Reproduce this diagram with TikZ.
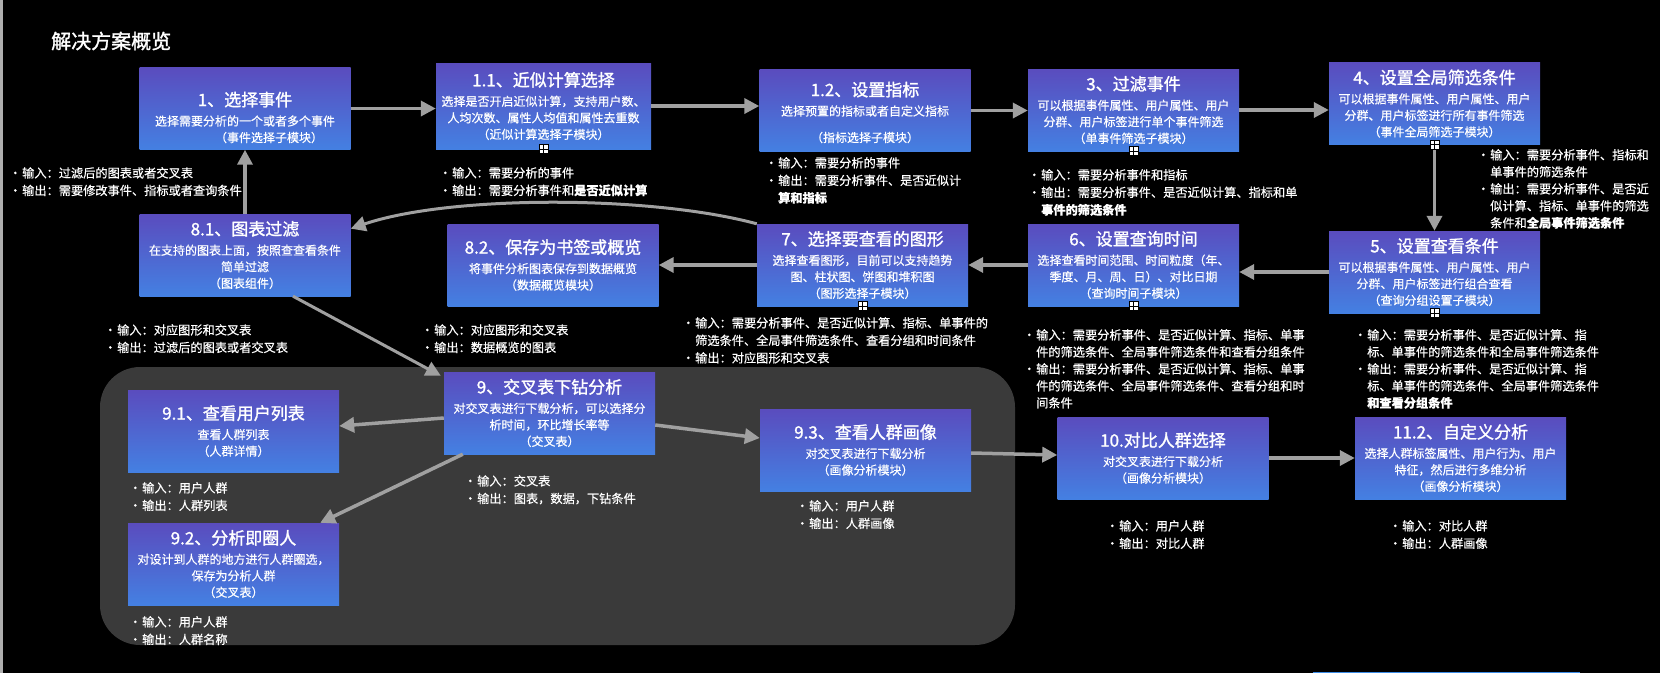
\documentclass[tikz,border=0pt]{standalone}
\usepackage{fontspec}
\setmainfont{Noto Sans CJK SC}[FakeBold=0.5]
\newfontfamily\titlefont{Noto Sans CJK SC}[FakeBold=1.4]
\usetikzlibrary{arrows.meta,calc}
\definecolor{boxtop}{RGB}{90,76,190}
\definecolor{boxbot}{RGB}{68,128,226}
\definecolor{arrgrey}{RGB}{160,160,160}
\definecolor{panel}{RGB}{58,58,58}
\definecolor{leftgrey}{RGB}{175,175,175}
\definecolor{bluel}{RGB}{60,140,230}
\newcommand\ttl[1]{{\titlefont\fontsize{17}{20}\selectfont #1}}
\newcommand\nb{\makebox[13pt][l]{·}}
\newcommand\nc{\hspace*{13pt}}
\tikzset{
  box/.style={rectangle, minimum width=211pt, minimum height=82pt, inner sep=0pt,
    top color=boxtop, bottom color=boxbot, draw=none},
  boxtext/.style={align=center, text=white, inner sep=0pt, font=\fontsize{12}{16.5}\selectfont},
  note/.style={align=left, text=white, anchor=north west, inner sep=0pt, font=\fontsize{12.2}{17.5}\selectfont},
  arr/.style={draw=arrgrey, line width=3.5pt, -{Triangle[length=15pt,width=15pt]}},
  plusicon/.style={rectangle, draw=black, fill=white, line width=0.8pt, minimum size=9pt, inner sep=0pt,
    path picture={\draw[black, line width=0.8pt] (path picture bounding box.north) -- (path picture bounding box.south)
      (path picture bounding box.west) -- (path picture bounding box.east);}}
}
\begin{document}
\begin{tikzpicture}[x=1pt,y=-1pt]
\useasboundingbox (0,0) rectangle (1660,673);
\fill[black] (0,0) rectangle (1660,673);
\fill[leftgrey] (0,0) rectangle (2.5,673);
\fill[panel, rounded corners=40pt] (100,367) rectangle (1015,645);
\fill[bluel] (1313,671.5) rectangle (1580,673);

\node[anchor=west, text=white, inner sep=0pt, font=\titlefont\fontsize{20}{20}\selectfont] (title) at (51,41) {解决方案概览};

% boxes
\node[box] (b1) at (245,108.5) {};
\node[boxtext, yshift=-9pt] (t1) at (b1.center) {\ttl{1、选择事件}\\[3pt]选择需要分析的一个或者多个事件\\\hspace*{48pt}（事件选择子模块）};
\node[box, minimum width=215pt, minimum height=86pt] (b11) at (543.5,106) {};
\node[boxtext] (t11) at (b11.center) {\ttl{1.1、近似计算选择}\\[3pt]选择是否开启近似计算，支持用户数、\\人均次数、属性人均值和属性去重数\\（近似计算选择子模块）};
\node[box] (b12) at (865,110.5) {};
\node[boxtext, yshift=-2pt] (t12) at (b12.center) {\ttl{1.2、设置指标}\\[3pt]选择预置的指标或者自定义指标\\[10pt]（指标选择子模块）};
\node[box] (b3) at (1133.5,110) {};
\node[boxtext] (t3) at (b3.center) {\ttl{3、过滤事件}\\[3pt]可以根据事件属性、用户属性、用户\\分群、用户标签进行单个事件筛选\\（单事件筛选子模块）};
\node[box] (b4) at (1434.5,103.5) {};
\node[boxtext] (t4) at (b4.center) {\ttl{4、设置全局筛选条件}\\[3pt]可以根据事件属性、用户属性、用户\\分群、用户标签进行所有事件筛选\\（事件全局筛选子模块）};
\node[box] (b5) at (1434.5,272) {};
\node[boxtext] (t5) at (b5.center) {\ttl{5、设置查看条件}\\[3pt]可以根据事件属性、用户属性、用户\\分群、用户标签进行组合查看\\（查询分组设置子模块）};
\node[box] (b6) at (1133.5,265) {};
\node[boxtext] (t6) at (b6.center) {\ttl{6、设置查询时间}\\[3pt]选择查看时间范围、时间粒度（年、\\季度、月、周、日）、对比日期\\（查询时间子模块）};
\node[box] (b7) at (862.5,265) {};
\node[boxtext] (t7) at (b7.center) {\ttl{7、选择要查看的图形}\\[3pt]选择查看图形，目前可以支持趋势\\图、柱状图、饼图和堆积图\\（图形选择子模块）};
\node[box] (b82) at (553,265) {};
\node[boxtext] (t82) at (b82.center) {\ttl{8.2、保存为书签或概览}\\[3pt]将事件分析图表保存到数据概览\\（数据概览模块）};
\node[box] (b81) at (245,255) {};
\node[boxtext] (t81) at (b81.center) {\ttl{8.1、图表过滤}\\[3pt]在支持的图表上面，按照查查看条件\\简单过滤\\（图表组件）};
\node[box] (b9) at (549.5,413) {};
\node[boxtext] (t9) at (b9.center) {\ttl{9、交叉表下钻分析}\\[3pt]对交叉表进行下载分析，可以选择分\\析时间，环比增长率等\\（交叉表）};
\node[box] (b91) at (233.5,431) {};
\node[boxtext] (t91) at (b91.center) {\ttl{9.1、查看用户列表}\\[3pt]查看人群列表\\（人群详情）};
\node[box] (b92) at (233.5,564) {};
\node[boxtext] (t92) at (b92.center) {\ttl{9.2、分析即圈人}\\[3pt]对设计到人群的地方进行人群圈选，\\保存为分析人群\\（交叉表）};
\node[box] (b93) at (865.5,450) {};
\node[boxtext] (t93) at (b93.center) {\ttl{9.3、查看人群画像}\\[3pt]对交叉表进行下载分析\\（画像分析模块）};
\node[box] (b10) at (1163,458) {};
\node[boxtext] (t10) at (b10.center) {\ttl{10.对比人群选择}\\[3pt]对交叉表进行下载分析\\（画像分析模块）};
\node[box] (b112) at (1460.5,458) {};
\node[boxtext] (t112) at (b112.center) {\ttl{11.2、自定义分析}\\[3pt]选择人群标签属性、用户行为、用户\\特征，然后进行多维分析\\（画像分析模块）};

% notes
\node[note] (n1) at (9,167) {\nb 输入：过滤后的图表或者交叉表\\\nb 输出：需要修改事件、指标或者查询条件};
\node[note] (n11) at (439,167) {\nb 输入：需要分析的事件\\\nb 输出：需要分析事件和{\bfseries 是否近似计算}};
\node[note] (n12) at (765,157) {\nb 输入：需要分析的事件\\\nb 输出：需要分析事件、是否近似计\\\nc{\bfseries 算和指标}};
\node[note] (n3) at (1028,169) {\nb 输入：需要分析事件和指标\\\nb 输出：需要分析事件、是否近似计算、指标和单\\\nc{\bfseries 事件的筛选条件}};
\node[note, font=\fontsize{12.2}{17}\selectfont] (n4) at (1477,149) {\nb 输入：需要分析事件、指标和\\\nc 单事件的筛选条件\\\nb 输出：需要分析事件、是否近\\\nc 似计算、指标、单事件的筛选\\\nc 条件和{\bfseries 全局事件筛选条件}};
\node[note, font=\fontsize{12.2}{17}\selectfont] (n5) at (1354,329) {\nb 输入：需要分析事件、是否近似计算、指\\\nc 标、单事件的筛选条件和全局事件筛选条件\\\nb 输出：需要分析事件、是否近似计算、指\\\nc 标、单事件的筛选条件、全局事件筛选条件\\\nc{\bfseries 和查看分组条件}};
\node[note, font=\fontsize{12.2}{17}\selectfont] (n6) at (1023,329) {\nb 输入：需要分析事件、是否近似计算、指标、单事\\\nc 件的筛选条件、全局事件筛选条件和查看分组条件\\\nb 输出：需要分析事件、是否近似计算、指标、单事\\\nc 件的筛选条件、全局事件筛选条件、查看分组和时\\\nc 间条件};
\node[note] (n7) at (682,317) {\nb 输入：需要分析事件、是否近似计算、指标、单事件的\\\nc 筛选条件、全局事件筛选条件、查看分组和时间条件\\\nb 输出：对应图形和交叉表};
\node[note] (n81) at (104,324) {\nb 输入：对应图形和交叉表\\\nb 输出：过滤后的图表或者交叉表};
\node[note] (n82) at (421,324) {\nb 输入：对应图形和交叉表\\\nb 输出：数据概览的图表};
\node[note] (n9) at (464,475) {\nb 输入：交叉表\\\nb 输出：图表，数据，下钻条件};
\node[note] (n91) at (129,482) {\nb 输入：用户人群\\\nb 输出：人群列表};
\node[note] (n92) at (129,616) {\nb 输入：用户人群\\\nb 输出：人群名称};
\node[note] (n93) at (796,500) {\nb 输入：用户人群\\\nb 输出：人群画像};
\node[note] (n10) at (1106,520) {\nb 输入：用户人群\\\nb 输出：对比人群};
\node[note] (n112) at (1389,520) {\nb 输入：对比人群\\\nb 输出：人群画像};

% connectors
\draw[arr] (b1.east) -- (b1.east -| b11.west);
\draw[arr] (b11.east) -- (b11.east -| b12.west);
\draw[arr] (b12.east) -- (b12.east -| b3.west);
\draw[arr] (b3.east) -- (b3.east -| b4.west);
\draw[arr] (b4.south) -- (b5.north);
\draw[arr] (b5.west) -- (b5.west -| b6.east);
\draw[arr] (b6.west) -- (b6.west -| b7.east);
\draw[arr] (b7.west) -- (b7.west -| b82.east);
\draw[arr, line width=3pt] (b7.north west) .. controls (650,195) and (450,195) .. (b81.14);
\draw[arr] (b81.north) -- (b1.south);
\draw[arr, line width=3pt] ($(b81.south)+(48,0)$) -- ($(b9.north west)+(-3,4)$);
\draw[arr] ($(b9.west)+(0,5)$) -- ($(b91.east)+(0,-5)$);
\draw[arr] ($(b9.south west)+(19,0)$) -- ($(b92.north east)+(-19,0)$);
\draw[arr] ($(b9.east)+(0,12)$) -- ($(b93.west)+(0,-12)$);
\draw[arr] ($(b93.east)+(0,3)$) -- ($(b10.west)+(0,-3)$);
\draw[arr] (b10.east) -- (b10.east -| b112.west);

% plus icons
\node[plusicon] (p11) at (b11.south) {};
\node[plusicon] (p3) at (b3.south) {};
\node[plusicon] (p4) at (b4.south) {};
\node[plusicon] (p5) at (b5.south) {};
\node[plusicon] (p6) at (b6.south) {};
\node[plusicon] (p7) at (b7.south) {};
\end{tikzpicture}
\end{document}
